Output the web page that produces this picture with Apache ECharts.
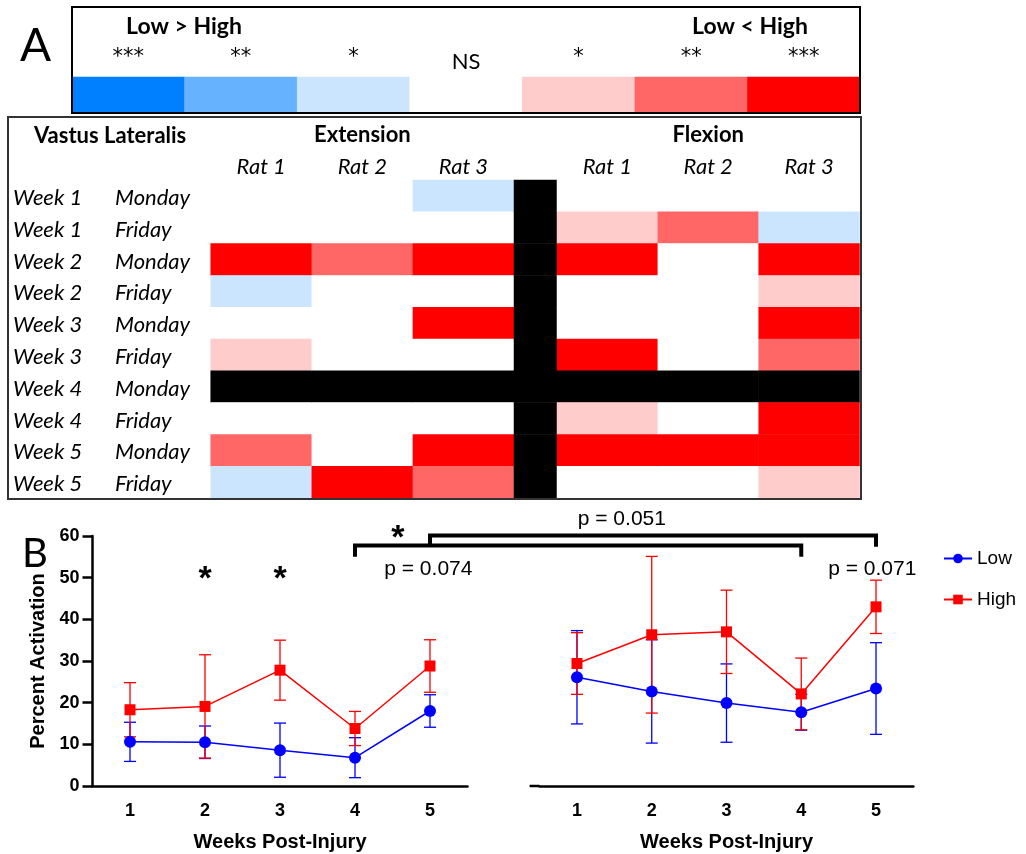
<!DOCTYPE html>
<html>
<head>
<meta charset="utf-8">
<script src="https://cdn.jsdelivr.net/npm/echarts@6/dist/echarts.min.js"></script>
<style>
  html, body { margin: 0; padding: 0; background: #fff; }
  #main { width: 1026px; height: 854px; }
</style>
</head>
<body>
<div id="main"></div>
<script>
// Significance codes: negative = Low > High, positive = Low < High, 0 = NS, NA = no session
const NA = 9;
const levelKeys = [-3, -2, -1, 0, 1, 2, 3];
const levelLabels = ['***', '**', '*', 'NS', '*', '**', '***'];
const levelColors = ['#0080FF', '#66B2FF', '#CCE5FF', '#FFFFFF', '#FFCCCC', '#FF6666', '#FF0000'];
const missingColor = '#000000';

const ratLabels = ['Rat 1', 'Rat 2', 'Rat 3'];
const rowWeeks = ['Week 1', 'Week 1', 'Week 2', 'Week 2', 'Week 3', 'Week 3', 'Week 4', 'Week 4', 'Week 5', 'Week 5'];
const rowDays = ['Monday', 'Friday', 'Monday', 'Friday', 'Monday', 'Friday', 'Monday', 'Friday', 'Monday', 'Friday'];

// one array per rat, one entry per session (row order above)
const extensionRat1 = [0, 0, 3, -1, 0, 1, NA, 0, 2, -1];
const extensionRat2 = [0, 0, 2, 0, 0, 0, NA, 0, 0, 3];
const extensionRat3 = [-1, 0, 3, 0, 3, 0, NA, 0, 3, 2];
const flexionRat1 = [0, 1, 3, 0, 0, 3, NA, 1, 3, 0];
const flexionRat2 = [0, 2, 0, 0, 0, 0, NA, 0, 3, 0];
const flexionRat3 = [0, -1, 3, 1, 3, 2, NA, 3, 3, 1];
const dividerColumn = [NA, NA, NA, NA, NA, NA, NA, NA, NA, NA];

// Percent activation, mean and SD per week post-injury
const weekLabels = ['1', '2', '3', '4', '5'];
const extLowMean = [10.6, 10.5, 8.6, 6.8, 18.0];
const extLowSD = [4.7, 3.9, 6.5, 4.8, 3.9];
const extHighMean = [18.3, 19.1, 27.8, 13.8, 28.8];
const extHighSD = [6.5, 12.4, 7.2, 4.1, 6.3];
const flexLowMean = [26.1, 22.7, 19.9, 17.7, 23.4];
const flexLowSD = [11.2, 12.4, 9.4, 4.3, 11.0];
const flexHighMean = [29.4, 36.3, 37.0, 22.1, 43.0];
const flexHighSD = [7.4, 18.8, 10.0, 8.6, 6.4];

const yTicks = { min: 0, max: 60, interval: 10 };

const LOW_COLOR = '#0000FF';
const HIGH_COLOR = '#FF0000';
const SANS = 'Liberation Sans';
const CAL = 'Lato';

function heatCells(columns) {
  const out = [];
  columns.forEach((col, c) => col.forEach((v, r) => out.push([c, r, v])));
  return out;
}

function errorBars(color) {
  return function (params, api) {
    const x = api.value(0), m = api.value(1), sd = api.value(2);
    const hi = api.coord([x, m + sd]);
    const lo = api.coord([x, m - sd]);
    const w = 6;
    const style = { stroke: color, lineWidth: 1.3 };
    return {
      type: 'group',
      children: [
        { type: 'line', shape: { x1: hi[0], y1: hi[1], x2: lo[0], y2: lo[1] }, style },
        { type: 'line', shape: { x1: hi[0] - w, y1: hi[1], x2: hi[0] + w, y2: hi[1] }, style },
        { type: 'line', shape: { x1: lo[0] - w, y1: lo[1], x2: lo[0] + w, y2: lo[1] }, style }
      ]
    };
  };
}

function barData(mean, sd) {
  return mean.map((m, i) => [i, m, sd[i]]);
}

const hiddenCat = (data, extra) => Object.assign({
  type: 'category', data,
  axisLine: { show: false }, axisTick: { show: false },
  axisLabel: { show: false }, splitLine: { show: false }
}, extra || {});

const rowIdx = rowWeeks.map((_, i) => String(i));
const levelIdx = levelLabels.map((_, i) => String(i));

const plotXAxis = (gridIndex) => ({
  type: 'category', gridIndex, data: weekLabels, boundaryGap: true,
  axisLine: { lineStyle: { color: '#000', width: 2.5 } },
  axisTick: { alignWithLabel: true, length: 9, lineStyle: { color: '#000', width: 2.5 } },
  axisLabel: { color: '#000', fontFamily: SANS, fontWeight: 'bold', fontSize: 18, margin: 16 },
  name: 'Weeks Post-Injury', nameLocation: 'middle', nameGap: 46,
  nameTextStyle: { color: '#000', fontFamily: SANS, fontWeight: 'bold', fontSize: 20 }
});

const ratAxisLabel = { show: true, margin: 2, fontFamily: CAL, fontStyle: 'italic', fontSize: 22, color: '#000' };
const headerStyle = { fontFamily: CAL, fontWeight: 'bold', fontSize: 22, color: '#000' };

const option = {
  animation: false,
  backgroundColor: '#fff',
  grid: [
    { left: 72, top: 77, width: 788, height: 35 },
    { left: 210.7, top: 180, width: 303.3, height: 318 },
    { left: 514, top: 180, width: 43, height: 318 },
    { left: 557, top: 180, width: 302.5, height: 318 },
    { left: 92.5, top: 536, width: 375, height: 250 },
    { left: 539.6, top: 536, width: 373.8, height: 250 }
  ],
  xAxis: [
    hiddenCat(levelIdx, {
      gridIndex: 0, position: 'top',
      axisLabel: {
        show: true, margin: 4, interval: 0,
        formatter: (v, i) => levelLabels[i] === 'NS' ? '{ns|NS}' : '{st|' + levelLabels[i] + '}',
        rich: {
          st: { fontFamily: 'DejaVu Sans', fontSize: 21, color: '#000', padding: [0, 0, 5, 0] },
          ns: { fontFamily: CAL, fontSize: 22, color: '#000' }
        }
      }
    }),
    hiddenCat(ratLabels, {
      gridIndex: 1, position: 'top', axisLabel: ratAxisLabel,
      name: 'Extension', nameLocation: 'middle', nameGap: 34, nameTextStyle: headerStyle
    }),
    hiddenCat(['x'], { gridIndex: 2 }),
    hiddenCat(ratLabels, {
      gridIndex: 3, position: 'top', axisLabel: ratAxisLabel,
      name: 'Flexion', nameLocation: 'middle', nameGap: 34, nameTextStyle: headerStyle
    }),
    plotXAxis(4),
    plotXAxis(5)
  ],
  yAxis: [
    hiddenCat(['y'], { gridIndex: 0 }),
    hiddenCat(rowIdx, {
      gridIndex: 1, inverse: true,
      axisLabel: {
        show: true, align: 'left', margin: 197.7,
        formatter: (v, i) => '{w|' + rowWeeks[i] + '}{d|' + rowDays[i] + '}',
        rich: {
          w: { width: 102, fontFamily: CAL, fontStyle: 'italic', fontSize: 22, color: '#000', padding: [4, 0, 0, 0] },
          d: { fontFamily: CAL, fontStyle: 'italic', fontSize: 22, color: '#000', padding: [4, 0, 0, 0] }
        }
      }
    }),
    hiddenCat(rowIdx, { gridIndex: 2, inverse: true }),
    hiddenCat(rowIdx, { gridIndex: 3, inverse: true }),
    {
      type: 'value', gridIndex: 4, min: yTicks.min, max: yTicks.max, interval: yTicks.interval,
      axisLine: { show: true, lineStyle: { color: '#000', width: 2.5 } },
      axisTick: { show: true, length: 10, lineStyle: { color: '#000', width: 2.5 } },
      axisLabel: { color: '#000', fontFamily: SANS, fontWeight: 'bold', fontSize: 18, margin: 13 },
      splitLine: { show: false },
      name: 'Percent Activation', nameLocation: 'middle', nameGap: 44,
      nameTextStyle: { color: '#000', fontFamily: SANS, fontWeight: 'bold', fontSize: 20 }
    },
    {
      type: 'value', gridIndex: 5, min: yTicks.min, max: yTicks.max, interval: yTicks.interval,
      axisLine: { show: false }, axisTick: { show: false }, axisLabel: { show: false },
      splitLine: { show: false }
    }
  ],
  visualMap: {
    type: 'piecewise', show: false, seriesIndex: [0, 1, 2, 3],
    pieces: levelKeys.map((v, i) => ({ value: v, color: levelColors[i] }))
      .concat([{ value: NA, color: missingColor }])
  },
  legend: {
    data: ['Low', 'High'], orient: 'vertical', left: 938, top: 544,
    itemWidth: 28, itemHeight: 12, itemGap: 22,
    textStyle: { fontFamily: SANS, fontSize: 19, color: '#000' }
  },
  series: [
    { type: 'heatmap', xAxisIndex: 0, yAxisIndex: 0, data: levelKeys.map((v, i) => [i, 0, v]), itemStyle: { borderWidth: 0 } },
    { type: 'heatmap', xAxisIndex: 1, yAxisIndex: 1, data: heatCells([extensionRat1, extensionRat2, extensionRat3]), itemStyle: { borderWidth: 0 } },
    { type: 'heatmap', xAxisIndex: 2, yAxisIndex: 2, data: heatCells([dividerColumn]), itemStyle: { borderWidth: 0 } },
    { type: 'heatmap', xAxisIndex: 3, yAxisIndex: 3, data: heatCells([flexionRat1, flexionRat2, flexionRat3]), itemStyle: { borderWidth: 0 } },

    { type: 'line', name: 'Low', xAxisIndex: 4, yAxisIndex: 4, data: extLowMean, color: LOW_COLOR, symbol: 'circle', symbolSize: 12, lineStyle: { width: 1.5 }, z: 4 },
    { type: 'line', name: 'High', xAxisIndex: 4, yAxisIndex: 4, data: extHighMean, color: HIGH_COLOR, symbol: 'rect', symbolSize: 11, lineStyle: { width: 1.5 }, z: 5 },
    { type: 'line', name: 'Low', xAxisIndex: 5, yAxisIndex: 5, data: flexLowMean, color: LOW_COLOR, symbol: 'circle', symbolSize: 12, lineStyle: { width: 1.5 }, z: 4 },
    { type: 'line', name: 'High', xAxisIndex: 5, yAxisIndex: 5, data: flexHighMean, color: HIGH_COLOR, symbol: 'rect', symbolSize: 11, lineStyle: { width: 1.5 }, z: 5 },

    { type: 'custom', name: 'Low', xAxisIndex: 4, yAxisIndex: 4, renderItem: errorBars(LOW_COLOR), data: barData(extLowMean, extLowSD), encode: { x: 0, y: 1 }, z: 3, itemStyle: { color: LOW_COLOR } },
    { type: 'custom', name: 'High', xAxisIndex: 4, yAxisIndex: 4, renderItem: errorBars(HIGH_COLOR), data: barData(extHighMean, extHighSD), encode: { x: 0, y: 1 }, z: 3, itemStyle: { color: HIGH_COLOR } },
    { type: 'custom', name: 'Low', xAxisIndex: 5, yAxisIndex: 5, renderItem: errorBars(LOW_COLOR), data: barData(flexLowMean, flexLowSD), encode: { x: 0, y: 1 }, z: 3, itemStyle: { color: LOW_COLOR } },
    { type: 'custom', name: 'High', xAxisIndex: 5, yAxisIndex: 5, renderItem: errorBars(HIGH_COLOR), data: barData(flexHighMean, flexHighSD), encode: { x: 0, y: 1 }, z: 3, itemStyle: { color: HIGH_COLOR } }
  ]
};

const chart = echarts.init(document.getElementById('main'), null, { renderer: 'canvas' });
chart.setOption(option);

// Annotations placed in data space of the two activation panels;
// fractional week positions are interpolated between category centres
const EXT = 4, FLX = 5;
function px(g, x, y) {
  const i = Math.floor(x);
  const a = chart.convertToPixel({ gridIndex: g }, [i, y]);
  const b = chart.convertToPixel({ gridIndex: g }, [i + 1, y]);
  const f = x - i;
  return [a[0] + (b[0] - a[0]) * f, a[1]];
}

function text(id, pos, str, font, align, vAlign) {
  return {
    type: 'text', id, x: pos[0], y: pos[1], z: 50,
    style: { text: str, font, fill: '#000', textAlign: align, textVerticalAlign: vAlign }
  };
}

const bracketLow = [px(EXT, 3, 55.0), px(EXT, 3, 57.7), px(FLX, 3, 57.7), px(FLX, 3, 55.0)];
const bracketHigh = [px(EXT, 4, 57.6), px(EXT, 4, 60.1), px(FLX, 4, 60.1), px(FLX, 4, 57.4)];
const flexEdge = px(FLX, -0.5, 0);

const graphics = [
  text('panelA', [20, 46], 'A', '46px ' + CAL, 'left', 'middle'),
  { type: 'rect', id: 'keyBox', z: 40, shape: { x: 72, y: 7, width: 788, height: 106 }, style: { fill: 'none', stroke: '#000', lineWidth: 2 } },
  text('keyLeft', [184, 27], 'Low > High', 'bold 23px ' + CAL, 'center', 'middle'),
  text('keyRight', [750, 27], 'Low < High', 'bold 23px ' + CAL, 'center', 'middle'),
  { type: 'rect', id: 'tableBox', z: 40, shape: { x: 8, y: 117, width: 853, height: 382 }, style: { fill: 'none', stroke: '#333', lineWidth: 2 } },
  text('muscle', [34, 136], 'Vastus Lateralis', 'bold 22px ' + CAL, 'left', 'middle'),

  text('panelB', [22, 554], 'B', '40px ' + CAL, 'left', 'middle'),
  text('starW2', px(EXT, 1, 49.5), '*', 'bold 34px ' + SANS, 'center', 'middle'),
  text('starW3', px(EXT, 2, 49.5), '*', 'bold 34px ' + SANS, 'center', 'middle'),
  text('starBracket', px(EXT, 3.57, 59.3), '*', 'bold 34px ' + SANS, 'center', 'middle'),
  { type: 'polyline', id: 'bracketLow', z: 50, shape: { points: bracketLow }, style: { fill: 'none', stroke: '#000', lineWidth: 4 } },
  { type: 'polyline', id: 'bracketHigh', z: 50, shape: { points: bracketHigh }, style: { fill: 'none', stroke: '#000', lineWidth: 4 } },
  text('pExt', px(EXT, 3.39, 52.1), 'p = 0.074', '21px ' + SANS, 'left', 'middle'),
  text('pSpan', px(FLX, 0.6, 64.1), 'p = 0.051', '21px ' + SANS, 'center', 'middle'),
  text('pFlex', px(FLX, 3.95, 52.1), 'p = 0.071', '21px ' + SANS, 'center', 'middle'),
  { type: 'line', id: 'flexBaseStub', z: 50, shape: { x1: flexEdge[0] - 10, y1: flexEdge[1], x2: flexEdge[0], y2: flexEdge[1] }, style: { stroke: '#000', lineWidth: 2.5 } }
];

chart.setOption({ graphic: { elements: graphics } });
</script>
</body>
</html>
